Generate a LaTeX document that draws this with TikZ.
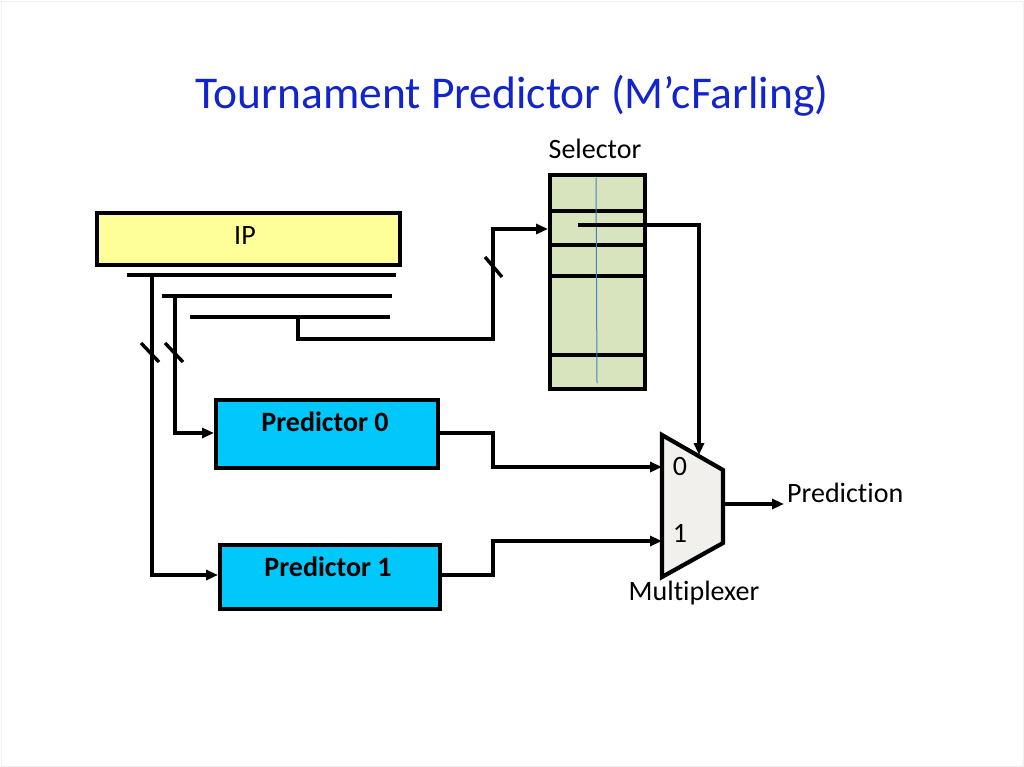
\documentclass[tikz,border=0pt]{standalone}
\usepackage{fontspec}
\setmainfont{Carlito}[Ligatures={NoCommon}]
\usetikzlibrary{arrows.meta}

\definecolor{titleblue}{RGB}{18,36,204}
\definecolor{ipyellow}{RGB}{255,255,153}
\definecolor{selgreen}{RGB}{215,228,189}
\definecolor{predcyan}{RGB}{0,200,250}
\definecolor{muxgray}{RGB}{242,240,236}
\definecolor{rowblue}{RGB}{70,130,185}

\begin{document}
\begin{tikzpicture}[
        x=1pt, y=-1pt,
        wire/.style={line width=3.4pt},
        flow/.style={wire, -{Triangle[length=12pt,width=10pt]}},
        block/.style={
            draw=black,
            line width=4.2pt,
            inner sep=0pt,
            anchor=north west
        },
        tag/.style={font=\fontsize{28}{32}\selectfont, inner sep=0pt}
    ]

    % Fondo
    \fill[white] (0,0) rectangle (1024,767);
    \draw[black!6] (1,1) rectangle (1023,766);

    % Título
    \node[font=\fontsize{45.5}{54}\selectfont, text=titleblue] (title) at (512,96) {Tournament Predictor (M’cFarling)};

    % Bloques
    \node[block, fill=ipyellow, minimum width=303pt, minimum height=52pt] (ip) at (95,211) {};
    \node[tag] (iplabel) at (245,236) {IP};
    \node[block, fill=selgreen, minimum width=95pt, minimum height=214pt] (sel) at (548,173) {};
    \node[tag] (sellabel) at (595,149) {Selector};
    \node[block, fill=predcyan, minimum width=222pt, minimum height=68pt] (p0) at (214,398) {};
    \node[tag, font=\fontsize{28}{32}\selectfont\bfseries] (p0label) at (325,422) {Predictor 0};
    \node[block, fill=predcyan, minimum width=220pt, minimum height=64pt] (p1) at (218,543) {};
    \node[tag, font=\fontsize{28}{32}\selectfont\bfseries] (p1label) at (328,567) {Predictor 1};

    % Filas del selector
    \foreach \y in {211,245,276,355}
        \draw[wire] (548,\y) -- (643,\y);
    \draw[rowblue, line width=1pt] (596,178) -- (597,383);

    % Multiplexor
    \draw[line width=4.2pt, fill=muxgray, line join=miter]
        (662,435) -- (723,470) -- (723,543) -- (662,577) -- cycle;
    \coordinate (mux0) at (662,467);
    \coordinate (mux1) at (662,541);
    \coordinate (muxsel) at (699,455);
    \coordinate (muxout) at (723,504);
    \node[tag] (zero) at (680,467) {0};
    \node[tag] (one) at (680,533) {1};
    \node[tag] (muxlabel) at (694,593) {Multiplexer};
    \node[tag, anchor=west] (pred) at (787,493) {Prediction};

    % Bits de IP
    \coordinate (b1a) at (127,275); \coordinate (b1b) at (396,275);
    \coordinate (b2a) at (162,296); \coordinate (b2b) at (392,296);
    \coordinate (b3a) at (190,317); \coordinate (b3b) at (390,317);
    \draw[wire] (b1a) -- (b1b);
    \draw[wire] (b2a) -- (b2b);
    \draw[wire] (b3a) -- (b3b);

    % Conexiones
    \draw[flow] (152,275) |- (p1.west |- 0,575);
    \draw[flow] (175,296) |- (p0.west |- 0,433);
    \draw[flow] (298,317) -- (298,339) -- (493,339) -- (493,229) -- (sel.west |- 0,229);
    \coordinate (selrow) at (578,225);
    \draw[flow] (selrow) -- (699,225) -- (muxsel);
    \draw[flow] (p0.east |- 0,433) -- (493,433) -- (493,467) -- (mux0);
    \draw[flow] (p1.east |- 0,575) -- (493,575) -- (493,541) -- (mux1);
    \draw[flow, shorten >=3pt] (muxout) -- (pred.west |- muxout);

    % Marcas de bus
    \draw[wire] (141,343) -- (159,362);
    \draw[wire] (165,343) -- (183,362);
    \draw[wire] (485,257) -- (502,277);

\end{tikzpicture}
\end{document}
